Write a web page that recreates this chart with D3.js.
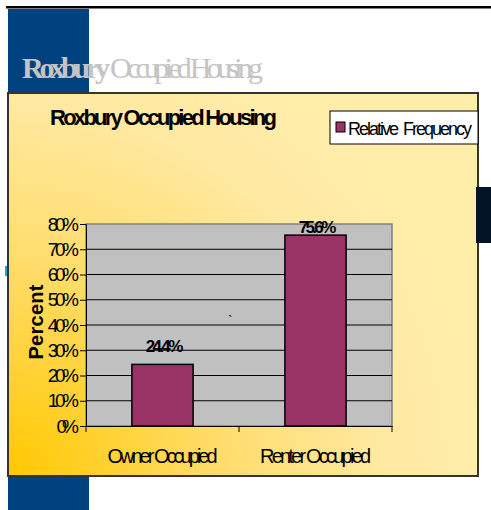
<!DOCTYPE html>
<html>
<head>
<meta charset="utf-8">
<script src="https://cdn.jsdelivr.net/npm/d3@7"></script>
<style>
  body { margin: 0; background: #fff; }
  svg { display: block; }
</style>
</head>
<body>
<div id="chart"></div>
<script>
// data
const categories = ["Owner Occupied", "Renter Occupied"];
const relFrequency = [24.4, 75.6];
const yTicks = [0, 10, 20, 30, 40, 50, 60, 70, 80];
const seriesName = "Relative  Frequency";
const chartTitle = "Roxbury Occupied Housing";
const headerBold = "Roxbury";
const headerRest = "Occupied Housing";
const yTitle = "Percent";

const W = 491, H = 510;
const plot = { left: 86, right: 392, top: 224, bottom: 426 };
const barColor = "#993366";
const sans = "'Liberation Sans', Arial, sans-serif";
const serif = "'Liberation Serif', 'Times New Roman', serif";

const svg = d3.select("#chart").append("svg")
  .attr("width", W)
  .attr("height", H);

// squeeze text horizontally like the original narrow rendering
function squeeze(sel, k) {
  sel.each(function () {
    const n = this.getComputedTextLength();
    d3.select(this).attr("textLength", n * k).attr("lengthAdjust", "spacing");
  });
}

// slide decoration
svg.append("rect").attr("x", 6).attr("y", 6).attr("width", W - 6).attr("height", 2.5).attr("fill", "#000");
svg.append("rect").attr("x", 8).attr("y", 9).attr("width", 81).attr("height", 84).attr("fill", "#00427f");
svg.append("rect").attr("x", 8).attr("y", 476).attr("width", 81).attr("height", H - 476).attr("fill", "#00427f");

svg.append("text")
  .attr("x", 22).attr("y", 78)
  .attr("font-family", serif).attr("font-size", 30).attr("font-weight", "bold")
  .attr("fill", "#c4c4c4")
  .attr("textLength", 88).attr("lengthAdjust", "spacing")
  .text(headerBold);
svg.append("text")
  .attr("x", 110).attr("y", 78)
  .attr("font-family", serif).attr("font-size", 30)
  .attr("fill", "#c4c4c4")
  .attr("textLength", 153).attr("lengthAdjust", "spacing")
  .text(headerRest);

// chart area background
const defs = svg.append("defs");
const grad = defs.append("radialGradient")
  .attr("id", "bg")
  .attr("gradientUnits", "userSpaceOnUse")
  .attr("cx", 8).attr("cy", 476).attr("r", 470);
grad.append("stop").attr("offset", 0).attr("stop-color", "#ffc800");
grad.append("stop").attr("offset", 0.45).attr("stop-color", "#ffdc6a");
grad.append("stop").attr("offset", 0.8).attr("stop-color", "#ffe9a2");
grad.append("stop").attr("offset", 1).attr("stop-color", "#ffedaa");

svg.append("rect")
  .attr("x", 8).attr("y", 93).attr("width", 470).attr("height", 383)
  .attr("fill", "url(#bg)")
  .attr("stroke", "#333").attr("stroke-width", 2);

// scales
const x = d3.scaleBand()
  .domain(categories)
  .range([plot.left, plot.right])
  .paddingInner(0.6)
  .paddingOuter(0.3);

const y = d3.scaleLinear()
  .domain([0, 80])
  .range([plot.bottom, plot.top]);

// plot area
svg.append("rect")
  .attr("x", plot.left).attr("y", plot.top)
  .attr("width", plot.right - plot.left).attr("height", plot.bottom - plot.top)
  .attr("fill", "#c0c0c0")
  .attr("stroke", "#808080").attr("stroke-width", 1.5);

svg.append("g")
  .selectAll("line")
  .data(yTicks.filter(d => d > 0 && d < 80))
  .join("line")
  .attr("x1", plot.left).attr("x2", plot.right)
  .attr("y1", d => y(d)).attr("y2", d => y(d))
  .attr("stroke", "#000").attr("stroke-width", 1);

// bars
svg.append("g")
  .selectAll("rect")
  .data(relFrequency)
  .join("rect")
  .attr("x", (d, i) => x(categories[i]))
  .attr("y", d => y(d))
  .attr("width", x.bandwidth())
  .attr("height", d => plot.bottom - y(d))
  .attr("fill", barColor)
  .attr("stroke", "#000").attr("stroke-width", 1.5);

// data labels, kept inside the plot area
svg.append("g")
  .selectAll("text")
  .data(relFrequency)
  .join("text")
  .attr("x", (d, i) => x(categories[i]) + x.bandwidth() / 2 + 2)
  .attr("y", d => Math.max(y(d) - 12, plot.top + 9))
  .attr("text-anchor", "middle")
  .attr("font-family", sans).attr("font-size", 17).attr("font-weight", "bold")
  .attr("fill", "#000")
  .text(d => d.toFixed(1) + "%")
  .call(squeeze, 0.78);

// y axis
const yAxis = svg.append("g")
  .attr("transform", `translate(${plot.left},0)`)
  .call(d3.axisLeft(y).tickValues(yTicks).tickFormat(d => d + "%").tickSize(6).tickPadding(1).tickSizeOuter(0));
yAxis.select(".domain").attr("stroke", "#000");
yAxis.selectAll(".tick line").attr("stroke", "#000");
yAxis.selectAll("text")
  .attr("font-family", sans).attr("font-size", 19).attr("fill", "#000")
  .call(squeeze, 0.82);

// x axis
const xAxis = svg.append("g")
  .attr("transform", `translate(0,${plot.bottom})`)
  .call(d3.axisBottom(x).tickSize(0).tickPadding(23).tickSizeOuter(0));
xAxis.select(".domain").attr("stroke", "#000");
xAxis.selectAll("text")
  .attr("font-family", sans).attr("font-size", 20).attr("fill", "#000")
  .call(squeeze, 0.74);

const bounds = categories.map(c => x(c) - x.step() * x.paddingInner() / 2).concat([plot.right]);
bounds[0] = plot.left;
svg.append("g")
  .selectAll("line")
  .data(bounds)
  .join("line")
  .attr("x1", d => d).attr("x2", d => d)
  .attr("y1", plot.bottom).attr("y2", plot.bottom + 6)
  .attr("stroke", "#000");

// titles
svg.append("text")
  .attr("x", 50).attr("y", 125)
  .attr("font-family", sans).attr("font-size", 22).attr("font-weight", "bold")
  .attr("fill", "#000")
  .attr("textLength", 227).attr("lengthAdjust", "spacing")
  .text(chartTitle);

svg.append("text")
  .attr("transform", "translate(43,322) rotate(-90)")
  .attr("text-anchor", "middle")
  .attr("font-family", sans).attr("font-size", 20).attr("font-weight", "bold")
  .attr("fill", "#000")
  .attr("textLength", 75).attr("lengthAdjust", "spacing")
  .text(yTitle);

// legend
const legend = svg.append("g");
legend.append("rect")
  .attr("x", 330).attr("y", 111).attr("width", 148).attr("height", 33)
  .attr("fill", "#fff").attr("stroke", "#000").attr("stroke-width", 1);
legend.append("rect")
  .attr("x", 336).attr("y", 122).attr("width", 9).attr("height", 10)
  .attr("fill", barColor).attr("stroke", "#000").attr("stroke-width", 1);
legend.append("text")
  .attr("x", 348).attr("y", 135)
  .attr("font-family", sans).attr("font-size", 18)
  .attr("fill", "#000")
  .style("white-space", "pre")
  .attr("textLength", 124).attr("lengthAdjust", "spacing")
  .text(seriesName);

// stray marks from the slide
svg.append("rect").attr("x", 476).attr("y", 187).attr("width", 15).attr("height", 56).attr("fill", "#021526");
svg.append("rect").attr("x", 5).attr("y", 266).attr("width", 2).attr("height", 10).attr("fill", "#1aa6d6");
svg.append("text").attr("x", 228).attr("y", 326)
  .attr("font-family", sans).attr("font-size", 14).attr("fill", "#000").text("`");
</script>
</body>
</html>
